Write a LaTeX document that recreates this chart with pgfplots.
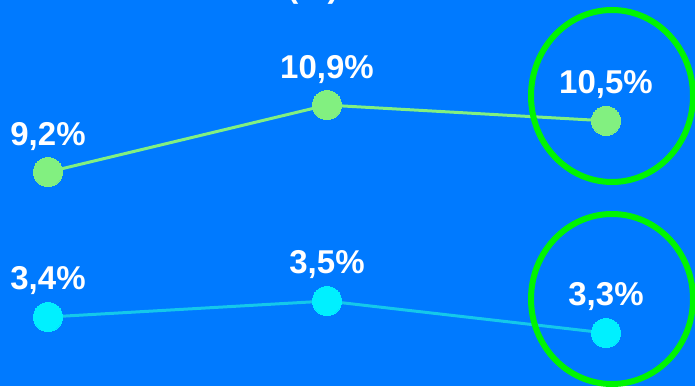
\documentclass[border=0pt]{standalone}
\usepackage{pgfplots}
\pgfplotsset{compat=1.18}
\usepackage{fontspec}
\setmainfont{Liberation Sans}
\definecolor{bg}{RGB}{0,122,255}
\definecolor{lgreen}{RGB}{130,240,128}
\definecolor{lcyan}{RGB}{0,240,255}
\definecolor{cyanline}{RGB}{20,200,235}
\definecolor{ring}{RGB}{0,245,0}
\begin{document}
\begin{tikzpicture}[x=1pt,y=1pt]
\useasboundingbox (0,0) rectangle (695,386);
\clip (0,0) rectangle (695,386);
\fill[bg] (0,0) rectangle (695,386);
\node[anchor=base, text=white, font=\fontsize{33}{36}\selectfont\bfseries] at (313,388) {(\%)};
\pgfplotsset{
  base/.style={
    scale only axis, width=695pt, height=386pt,
    at={(0pt,0pt)}, anchor=south west,
    hide axis, clip=false,
    xmin=-0.172, xmax=2.319,
    nodes near coords, point meta=explicit symbolic,
    every node near coord/.append style={anchor=center, yshift=36pt,
      text=white, font=\fontsize{33}{36}\selectfont\bfseries},
  }
}
\begin{axis}[base, ymin=3.77, ymax=13.567]
\addplot[color=lgreen, line width=3pt, mark=*, mark size=14.5pt,
  mark options={fill=lgreen, draw=lgreen, line width=0pt}]
  coordinates {(0,9.2) [9,2\%] (1,10.9) [10,9\%] (2,10.5) [10,5\%]};
\end{axis}
\begin{axis}[base, ymin=2.969, ymax=5.381]
\addplot[color=cyanline, line width=3pt, mark=*, mark size=14.5pt,
  mark options={fill=lcyan, draw=lcyan, line width=0pt}]
  coordinates {(0,3.4) [3,4\%] (1,3.5) [3,5\%] (2,3.3) [3,3\%]};
\end{axis}
\draw[ring, line width=6pt] (612,290) ellipse [x radius=81, y radius=86];
\draw[ring, line width=6pt] (612,87) ellipse [x radius=81, y radius=85];
\end{tikzpicture}
\end{document}
